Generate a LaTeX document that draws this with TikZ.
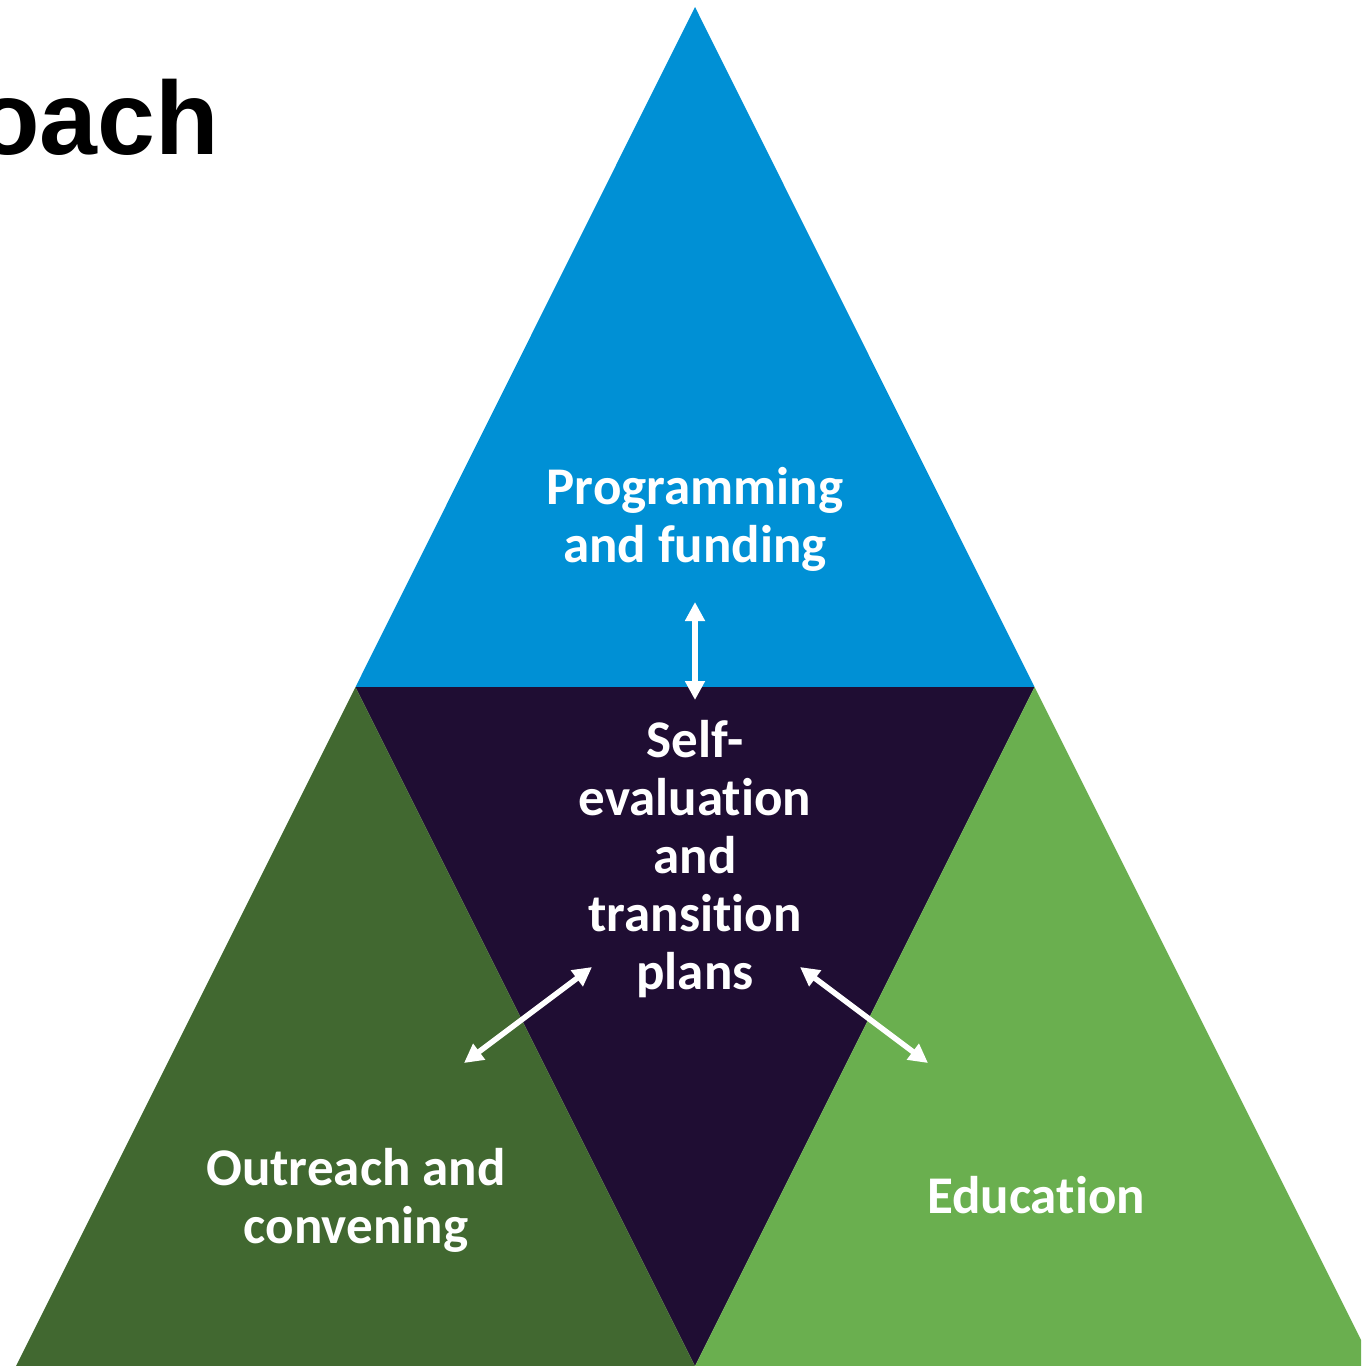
\documentclass[tikz,border=0pt]{standalone}
\usepackage{fontspec}
\setmainfont[Ligatures={NoCommon}]{Carlito}
\newfontfamily\titlefont{Liberation Sans}
\usetikzlibrary{arrows.meta}
\definecolor{topblue}{RGB}{0,144,213}
\definecolor{midnight}{RGB}{31,13,51}
\definecolor{darkgreen}{RGB}{65,104,48}
\definecolor{lightgreen}{RGB}{106,175,79}
\tikzset{
  lbl/.style={text=white, font=\fontsize{53}{58}\selectfont\bfseries, align=center, inner sep=0pt},
  twoway/.style={draw=white, line width=5.5pt, {Triangle[length=19pt,width=19pt]}-{Triangle[length=19pt,width=19pt]}},
}
\begin{document}
\begin{tikzpicture}[x=1pt,y=-1pt]
\useasboundingbox (0,0) rectangle (1361,1366);
\clip (0,0) rectangle (1361,1366);
\fill[white] (0,0) rectangle (1361,1366);
% corner points
\coordinate (A) at (695,7);
\coordinate (L) at (355.5,687);
\coordinate (R) at (1034.5,687);
\coordinate (BL) at (16,1366);
\coordinate (BM) at (695,1366);
\coordinate (BR) at (1374,1366);
% triangles
\fill[topblue] (A) -- (R) -- (L) -- cycle;
\fill[midnight] (L) -- (R) -- (BM) -- cycle;
\fill[darkgreen] (L) -- (BM) -- (BL) -- cycle;
\fill[lightgreen] (R) -- (BR) -- (BM) -- cycle;
% title (partly cut off)
\node[anchor=base east, inner sep=0pt, font=\titlefont\fontsize{104}{110}\selectfont\bfseries] (title) at (219,154) {oach};
% labels (base anchor = baseline of last line)
\node[lbl, anchor=base] (prog) at (695,562) {Programming\\and funding};
\node[lbl, anchor=base] (self) at (695,989) {Self-\\evaluation\\and\\transition\\plans};
\node[lbl, anchor=base] (outr) at (356,1243) {Outreach and\\convening};
\node[lbl, anchor=base] (educ) at (1036,1213) {Education};
% arrow ends
\coordinate (v1) at (695,602);
\coordinate (v2) at (695,700);
\coordinate (l1) at (592,967);
\coordinate (l2) at (464,1063);
\coordinate (r1) at (800,967);
\coordinate (r2) at (928,1063);
\draw[twoway] (v1) -- (v2);
\draw[twoway] (l1) -- (l2);
\draw[twoway] (r1) -- (r2);
\end{tikzpicture}
\end{document}
